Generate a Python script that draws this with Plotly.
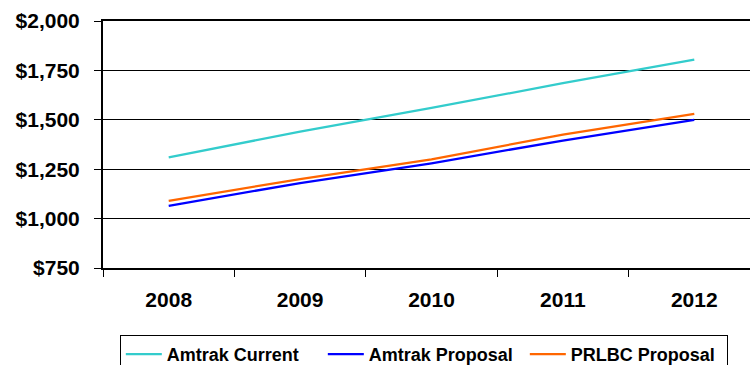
import plotly.graph_objects as go

# Annual cost by year (USD), three scenarios
years = ["2008", "2009", "2010", "2011", "2012"]
amtrak_current = [1310, 1440, 1560, 1685, 1805]
amtrak_proposal = [1065, 1180, 1280, 1395, 1500]
prlbc_proposal = [1090, 1200, 1300, 1425, 1530]

series_names = ["Amtrak Current", "Amtrak Proposal", "PRLBC Proposal"]
series_values = [amtrak_current, amtrak_proposal, prlbc_proposal]
series_colors = ["#33CCCC", "#0000FF", "#FF6600"]

y_ticks = [750, 1000, 1250, 1500, 1750, 2000]
y_ticktext = ["${:,}".format(v) for v in y_ticks]

FONT = "Liberation Sans, Arial, sans-serif"

fig = go.Figure()
for name, vals, color in zip(series_names, series_values, series_colors):
    fig.add_trace(go.Scatter(
        x=years, y=vals, name=name, mode="lines",
        line=dict(color=color, width=2.3),
    ))

fig.update_layout(
    width=750, height=365,
    margin=dict(l=103, r=0, t=21, b=97, autoexpand=False),
    paper_bgcolor="white", plot_bgcolor="white",
    font=dict(family=FONT, color="black"),
    showlegend=True,
    legend=dict(
        orientation="h",
        x=0.026, xanchor="left",
        y=-0.271, yanchor="top",
        bordercolor="black", borderwidth=1,
        font=dict(family=FONT, size=18, color="black", weight="bold"),
        itemwidth=36,
        entrywidth=151,
        tracegroupgap=0,
    ),
)

fig.update_xaxes(
    type="category",
    range=[-0.5, 4.424],
    showgrid=False,
    showline=True, linecolor="black", linewidth=2,
    mirror=True,
    ticks="outside", tickson="boundaries", ticklen=7, tickcolor="black", tickwidth=1,
    tickfont=dict(family=FONT, size=21, color="black", weight="bold"),
    ticklabelstandoff=12,
    zeroline=False,
)

fig.update_yaxes(
    range=[750, 2000],
    tickvals=y_ticks, ticktext=y_ticktext,
    showgrid=True, gridcolor="black", gridwidth=1,
    showline=True, linecolor="black", linewidth=2,
    ticks="outside", ticklen=7, tickcolor="black", tickwidth=1,
    tickfont=dict(family=FONT, size=21, color="black", weight="bold"),
    ticklabelstandoff=10,
    zeroline=False,
)

fig.write_html("out.html")
